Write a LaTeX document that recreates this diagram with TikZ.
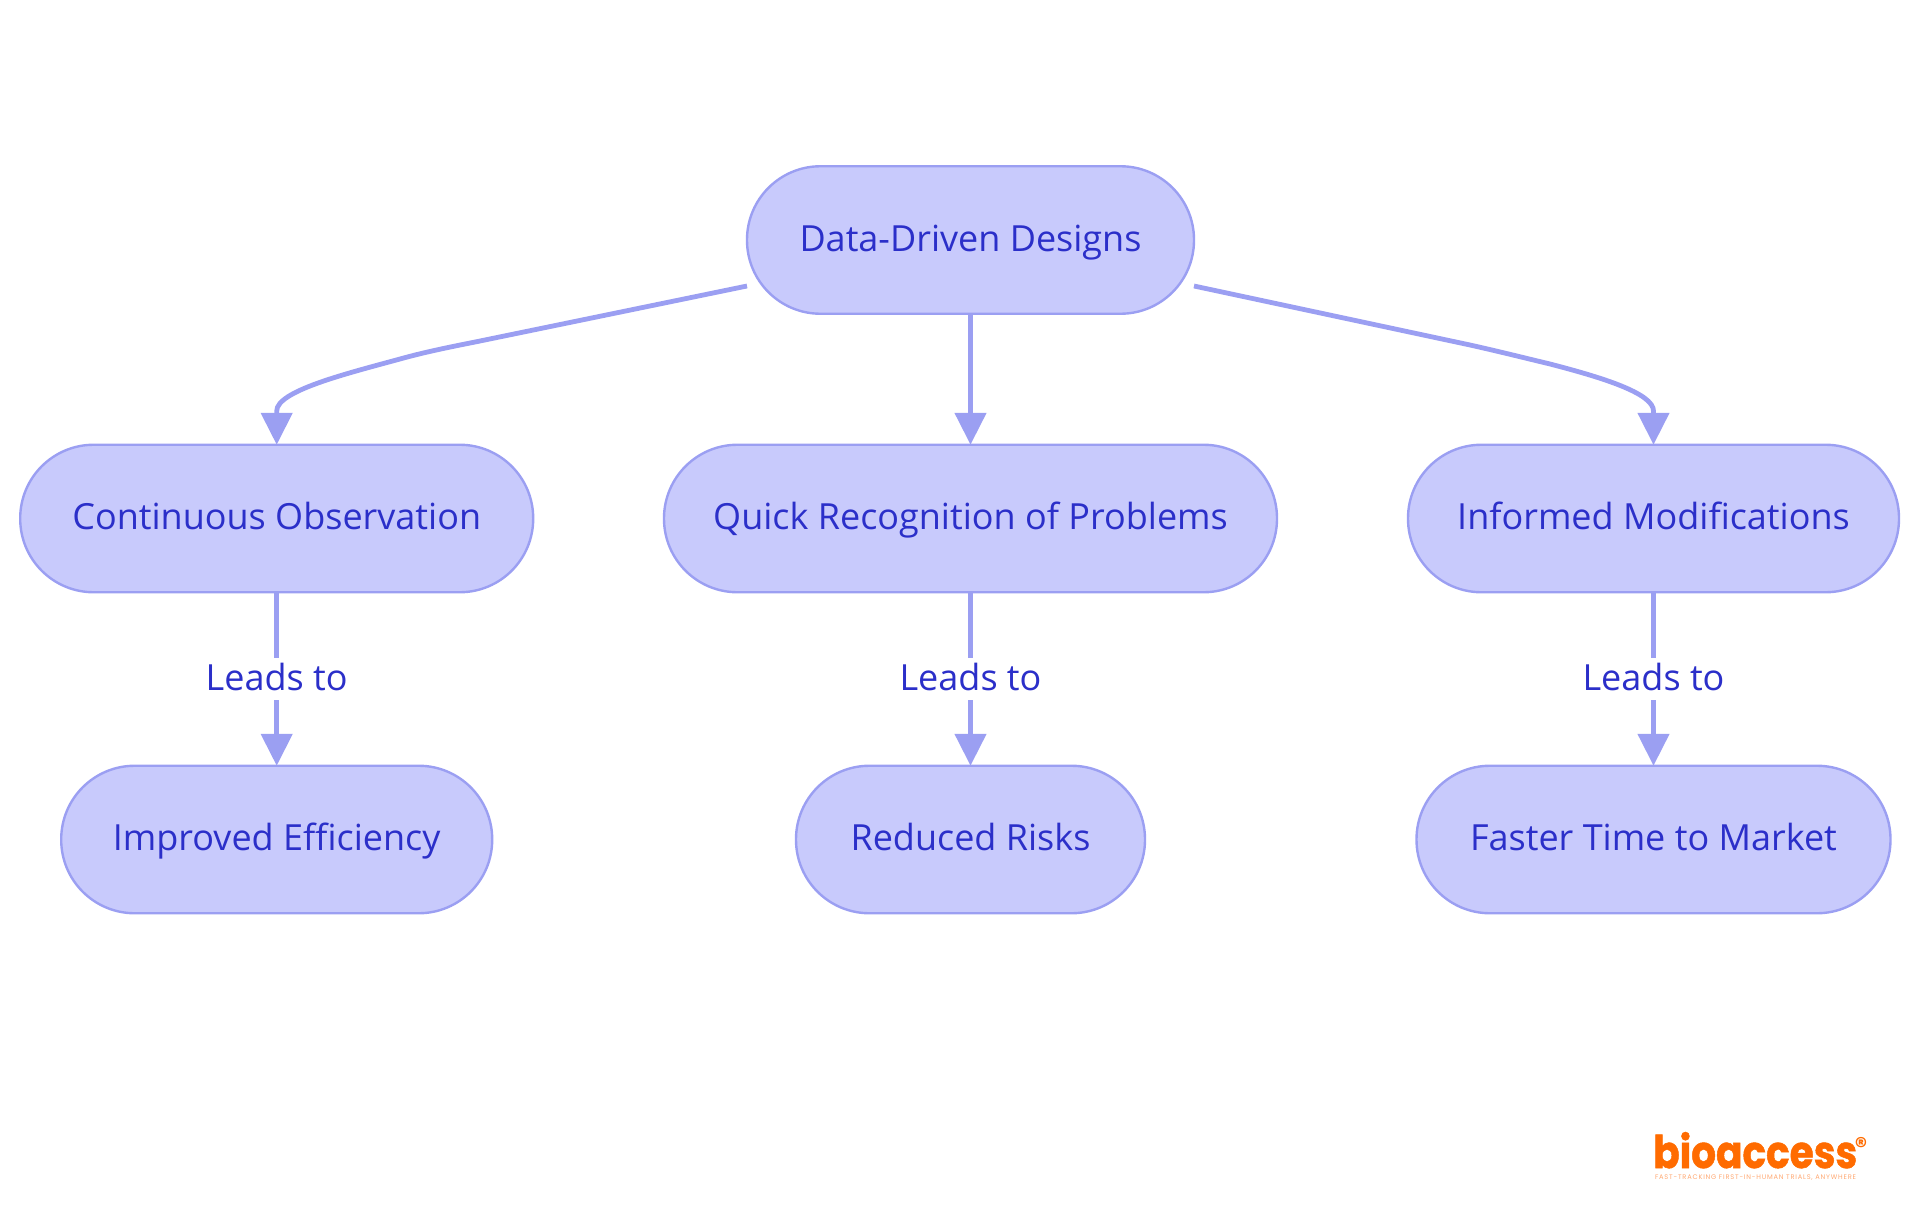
\documentclass[tikz,border=0pt]{standalone}
\usepackage{fontspec}
\usepackage{graphicx}
\usetikzlibrary{arrows.meta}
\setmainfont{Open Sans}
\newfontfamily\logofont{Poppins}
\definecolor{boxfill}{HTML}{C8CAFC}
\definecolor{boxline}{HTML}{9B9FF2}
\definecolor{boxtext}{HTML}{2B2FC9}
\definecolor{logoorange}{HTML}{FF6B00}
\definecolor{tagorange}{HTML}{FFA872}
\tikzset{
  box/.style={draw=boxline,fill=boxfill,line width=2.4pt,rectangle,rounded corners=73.5pt,
    minimum height=147.5pt,inner sep=0pt,outer sep=0pt,text=boxtext,align=center,
    font=\fontsize{36}{42}\selectfont,text height=26pt,text depth=4pt},
  link/.style={draw=boxline,line width=4.8pt,-{Triangle[width=31pt,length=32pt]}},
  lbl/.style={fill=white,text=boxtext,inner xsep=0pt,inner ysep=0pt,minimum height=42pt,
    font=\fontsize{36}{42}\selectfont,text height=26pt,text depth=4pt}
}
\begin{document}
\begin{tikzpicture}[x=1pt,y=-1pt]
\useasboundingbox (0,0) rectangle (1920,1215);
\node[box,minimum width=447pt] (root) at (970.5,240) {Data-Driven Designs};
\node[box,minimum width=513pt] (cont) at (276.7,518.5) {Continuous Observation};
\node[box,minimum width=613pt] (quick) at (970.5,518.5) {Quick Recognition of Problems};
\node[box,minimum width=491pt] (inf) at (1653.5,518.5) {Informed Modifications};
\node[box,minimum width=431pt] (eff) at (276.7,839.5) {Improved Efficiency};
\node[box,minimum width=349pt] (risk) at (970.5,839.5) {Reduced Risks};
\node[box,minimum width=474pt] (fast) at (1653.5,839.5) {Faster Time to Market};
\coordinate (rootL) at ([yshift=-46pt]root.west);
\coordinate (rootR) at ([yshift=-46pt]root.east);
\draw[link] (rootL) -- (480,341)
  .. controls (450,347) and (425,352) .. (400,359)
  .. controls (345,374) and (276.7,391) .. (276.7,411) -- (cont.north);
\draw[link] (rootR) -- (1470,345)
  .. controls (1497,351) and (1525,358) .. (1550,364)
  .. controls (1600,377) and (1653.5,393) .. (1653.5,411) -- (inf.north);
\draw[link] (root.south) -- (quick.north);
\draw[link] (cont.south) -- node[lbl] (l1) {Leads to} (eff.north);
\draw[link] (quick.south) -- node[lbl] (l2) {Leads to} (risk.north);
\draw[link] (inf.south) -- node[lbl] (l3) {Leads to} (fast.north);
\node[anchor=base west,inner sep=0pt,text=logoorange] (logo) at (1653,1168)
  {\resizebox{204pt}{36pt}{\logofont\bfseries\addfontfeature{FakeBold=1.2}bioaccess}};
\node[anchor=center,inner sep=0pt,text=logoorange,font=\logofont\bfseries\fontsize{24}{24}\selectfont] (reg) at (1861,1146) {®};
\node[anchor=center,inner sep=0pt,text=tagorange] (tag) at (1755.5,1177.5)
  {\resizebox{201pt}{!}{\logofont\addfontfeature{LetterSpace=12}FAST-TRACKING FIRST-IN-HUMAN TRIALS, ANYWHERE}};
\end{tikzpicture}
\end{document}
